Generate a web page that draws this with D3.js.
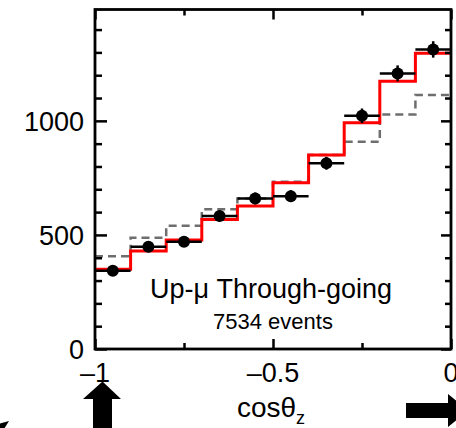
<!DOCTYPE html>
<html><head><meta charset="utf-8">
<script src="https://cdn.jsdelivr.net/npm/d3@7"></script>
<style>html,body{margin:0;padding:0;background:#fff;}svg{display:block;font-family:"Liberation Sans",Arial,sans-serif;}</style>
</head><body>
<svg id="c" width="456" height="428"></svg>
<script>
// Data (bins in cos(theta_z), width 0.1 from -1 to 0)
const binEdges = [-1,-0.9,-0.8,-0.7,-0.6,-0.5,-0.4,-0.3,-0.2,-0.1,0];
const dataCounts = [343, 448, 470, 583, 660, 670, 814, 1022, 1208, 1313];
const dataErrors = [19, 21, 22, 24, 26, 26, 28, 32, 35, 36];
const oscMC = [350, 430, 478, 568, 627, 729, 850, 992, 1174, 1296];   // red
const noOscMC = [407, 488, 540, 612, 660, 733, 850, 908, 1028, 1113]; // gray dashed
const xTickLabels = [{v:-1,t:"\u20131"},{v:-0.5,t:"\u20130.5"},{v:0,t:"0"}];
const yTickLabels = [{v:0,t:"0"},{v:500,t:"500"},{v:1000,t:"1000"}];
const titleText = "Up-\u03bc Through-going";
const subText = "7534 events";

const svg = d3.select("#c");
const L=95, R=451, T=9.5, B=349;
const x = d3.scaleLinear().domain([-1,0]).range([L,R]);
const y = d3.scaleLinear().domain([0,1488]).range([B,T]);

function stepPath(vals){
  let p = "";
  vals.forEach((v,i)=>{
    const x0=x(binEdges[i]), x1=x(binEdges[i+1]), yy=y(v);
    p += (i===0? "M":"L")+x0+","+yy+"L"+x1+","+yy;
  });
  return p;
}

// gray dashed no-osc
svg.append("path").attr("d",stepPath(noOscMC)).attr("fill","none")
  .attr("stroke","#6e6e6e").attr("stroke-width",2.5).attr("stroke-dasharray","8,5");
// red osc
svg.append("path").attr("d",stepPath(oscMC)).attr("fill","none")
  .attr("stroke","#ff0000").attr("stroke-width",3);

// data points
const pts = svg.append("g");
dataCounts.forEach((v,i)=>{
  const xc = x((binEdges[i]+binEdges[i+1])/2);
  pts.append("line").attr("x1",x(binEdges[i])).attr("x2",x(binEdges[i+1]))
    .attr("y1",y(v)).attr("y2",y(v)).attr("stroke","#000").attr("stroke-width",2.5);
  pts.append("line").attr("x1",xc).attr("x2",xc)
    .attr("y1",y(v-dataErrors[i])).attr("y2",y(v+dataErrors[i])).attr("stroke","#000").attr("stroke-width",2.5);
  pts.append("circle").attr("cx",xc).attr("cy",y(v)).attr("r",6).attr("fill","#000");
});

// frame
svg.append("rect").attr("x",L).attr("y",T).attr("width",R-L).attr("height",B-T)
  .attr("fill","none").attr("stroke","#000").attr("stroke-width",2.8);

// axes ticks via d3 axes
const yMinor = d3.range(0,1401,100);
const xMinor = d3.range(-1,0.001,0.25);
const tickStyle = g=>{g.select(".domain").remove();g.selectAll("text").remove();g.selectAll("line").attr("stroke","#000").attr("stroke-width",2.5);};
// left
svg.append("g").attr("transform",`translate(${L},0)`)
  .call(d3.axisRight(y).tickValues(yMinor).tickSize(7)).call(tickStyle)
  .selectAll(".tick line").attr("x2",d=>d%500===0?12:7);
// right
svg.append("g").attr("transform",`translate(${R},0)`)
  .call(d3.axisLeft(y).tickValues(yMinor).tickSize(7)).call(tickStyle)
  .selectAll(".tick line").attr("x2",d=>d%500===0?-10:-6);
// bottom
svg.append("g").attr("transform",`translate(0,${B})`)
  .call(d3.axisTop(x).tickValues(xMinor).tickSize(6)).call(tickStyle)
  .selectAll(".tick line").attr("y2",d=>Math.abs(d*2-Math.round(d*2))<1e-6?-10:-6);
// top
svg.append("g").attr("transform",`translate(0,${T})`)
  .call(d3.axisBottom(x).tickValues(xMinor).tickSize(6)).call(tickStyle)
  .selectAll(".tick line").attr("y2",d=>Math.abs(d*2-Math.round(d*2))<1e-6?10:6);

// tick labels
svg.append("g").selectAll("text").data(yTickLabels).join("text")
  .attr("x",84).attr("y",d=>y(d.v)).attr("dy","0.36em").attr("text-anchor","end")
  .attr("font-size",27).text(d=>d.t);
svg.append("g").selectAll("text").data(xTickLabels).join("text")
  .attr("x",d=>x(d.v)).attr("y",382).attr("text-anchor","middle")
  .attr("font-size",27).text(d=>d.t);

// annotations
svg.append("text").attr("x",271).attr("y",298).attr("text-anchor","middle")
  .attr("font-size",27).text(titleText);
svg.append("text").attr("x",273).attr("y",329).attr("text-anchor","middle")
  .attr("font-size",22).text(subText);

// axis title
const xt = svg.append("text").attr("x",271).attr("y",417).attr("text-anchor","middle").attr("font-size",28);
xt.append("tspan").text("cos\u03b8");
xt.append("tspan").attr("font-size",18).attr("dy",7).text("z");

// arrows
svg.append("path").attr("d","M102.5,381.5L121,399L112,399L112,430L93,430L93,399L83,399Z").attr("fill","#000");
svg.append("path").attr("d","M406,403L448,403L448,394L468,410.5L448,427L448,418L406,418Z").attr("fill","#000");
svg.append("path").attr("d","M9,421L4,429L-2,429L-2,424Z").attr("fill","#000");
</script>
</body></html>
